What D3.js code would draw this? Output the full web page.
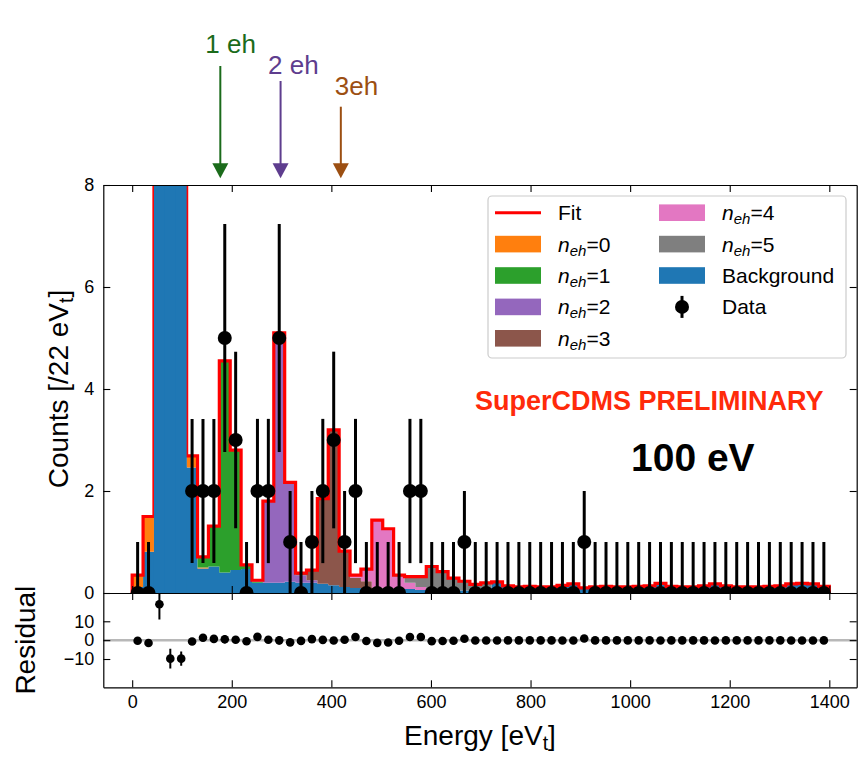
<!DOCTYPE html>
<html><head><meta charset="utf-8">
<script src="https://cdn.jsdelivr.net/npm/d3@7/dist/d3.min.js"></script>
<style>
body{margin:0;background:#fff}
svg{display:block}
text{font-family:"Liberation Sans",Arial,sans-serif}
</style>
</head><body>
<svg id="chart" width="860" height="757"></svg>
<script>
// ---------------- data ----------------
const binLow = 0, binHigh = 1400, binCount = 64;   // 64 bins of ~22 eV_t
const dataCounts = [0,0,64,28,14,2,2,2,5,3,0,2,2,5,1,0,1,2,3,1,2,0,0,0,0,2,2,0,0,0,1,0,
                    0,0,0,0,0,0,0,0,0,1,0,0,0,0,0,0,0,0,0,0,0,0,0,0,0,0,0,0,0,0,0,0];
const background = [0.12,0.81,44.5,37.3,23.5,2.46,0.48,0.52,0.40,0.45,0.47,0.20,0.20,0.20,0.22,0.20,
                    0.20,0.18,0.15,0.12,0.10,0.08,0.06,0.06,0.07,0.08,0.06,0.05,0.05,0.05,0.05,0.05,
                    0.10,0.22,0.14,0.12,0.13,0.12,0.12,0.15,0.18,0.10,0.12,0.13,0.12,0.12,0.13,0.14,
                    0.19,0.13,0.12,0.12,0.14,0.18,0.14,0.12,0.12,0.12,0.13,0.14,0.18,0.19,0.18,0.13];
const neh0 = [0.23,0.69,0.5,0.5,0.3,0.21,0.02];
const neh1 = [0,0,0,0,0,0.02,0.21,0.79,4.15,2.35,0.08,0.02];
const neh2 = [0,0,0,0,0,0,0,0,0,0,0,0.03,1.6,4.9,1.95,0.15,0.05];
const neh3 = [0,0,0,0,0,0,0,0,0,0,0,0,0,0,0,0.04,0.2,1.67,3.05,0.7,0.2,0.15,0.05];
const neh4 = [0,0,0,0,0,0,0,0,0,0,0,0,0,0,0,0,0,0,0,0,0.05,0.24,1.32,1.2,0.25,0.12,0.06];
const neh5 = [0,0,0,0,0,0,0,0,0,0,0,0,0,0,0,0,0,0,0,0,0,0,0,0,0.03,0.12,0.2,0.47,0.37,0.24,0.18,0.12,0.1];

const seriesColors = ["#1f77b4","#ff7f0e","#2ca02c","#9467bd","#8c564b","#e377c2","#7f7f7f"];

const xTicks = [0,200,400,600,800,1000,1200,1400];
const yTicks = [0,2,4,6,8];
const resTicks = [-10,0,10];

const ehArrows = [
  {label:"1 eh", energy:177, color:"#1b6b1b"},
  {label:"2 eh", energy:298, color:"#5e3d8e"},
  {label:"3eh",  energy:419, color:"#9c4f12"}
];

// ---------------- layout ----------------
const L = 103.3, R = 856.7, T = 185, MB = 593, RB = 687.3;
const svg = d3.select("#chart");
const x = d3.scaleLinear().domain([-58, 1455]).range([L, R]);
const y = d3.scaleLinear().domain([0, 8]).range([MB, T]);
const yr = d3.scaleLinear().domain([-25, 25]).range([RB, MB]);

const width = (binHigh - binLow) / binCount;
const edges = d3.range(binCount + 1).map(i => binLow + i * width);
const centers = d3.range(binCount).map(i => binLow + (i + 0.5) * width);
const comps = [background, neh0, neh1, neh2, neh3, neh4, neh5]
  .map(a => d3.range(binCount).map(i => a[i] || 0));

const cum = [];
let base = d3.range(binCount).map(() => 0);
comps.forEach(c => {
  const top = base.map((b, i) => b + c[i]);
  cum.push({lo: base, hi: top});
  base = top;
});
const fitTotal = base;

const defs = svg.append("defs");
defs.append("clipPath").attr("id","clipMain").append("rect")
  .attr("x", L).attr("y", T).attr("width", R - L).attr("height", MB - T);
defs.append("clipPath").attr("id","clipRes").append("rect")
  .attr("x", L).attr("y", MB).attr("width", R - L).attr("height", RB - MB);

const main = svg.append("g").attr("clip-path","url(#clipMain)");

const idx = d3.range(binCount + 1);
cum.forEach((layer, j) => {
  const area = d3.area()
    .curve(d3.curveStepAfter)
    .x(i => x(edges[i]))
    .y0(i => y(layer.lo[Math.min(i, binCount - 1)]))
    .y1(i => y(layer.hi[Math.min(i, binCount - 1)]));
  main.append("path").attr("d", area(idx)).attr("fill", seriesColors[j]);
});

const fitPts = [[edges[0], 0]]
  .concat(d3.range(binCount).map(i => [edges[i], fitTotal[i]]))
  .concat([[edges[binCount], fitTotal[binCount - 1]], [edges[binCount], 0]]);
main.append("path")
  .attr("d", d3.line().curve(d3.curveStepAfter).x(d => x(d[0])).y(d => y(d[1]))(fitPts))
  .attr("fill","none").attr("stroke","#ff0000").attr("stroke-width",3.2);

const over = d3.range(binCount).filter(i => background[i] > y.domain()[1]);
main.selectAll("rect.over").data(over).join("rect")
  .attr("x", i => x(edges[i])).attr("width", i => x(edges[i + 1]) - x(edges[i]))
  .attr("y", T - 5).attr("height", MB - T + 5)
  .attr("fill", seriesColors[0]);

const pts = d3.range(binCount).map(i => ({
  e: centers[i], n: dataCounts[i],
  lo: dataCounts[i] > 0 ? dataCounts[i] - Math.sqrt(dataCounts[i]) : 0,
  hi: dataCounts[i] > 0 ? dataCounts[i] + Math.sqrt(dataCounts[i]) : 1
}));
main.selectAll("line.err").data(pts).join("line")
  .attr("x1", d => x(d.e)).attr("x2", d => x(d.e))
  .attr("y1", d => y(d.lo)).attr("y2", d => y(d.hi))
  .attr("stroke","#000").attr("stroke-width",3);
main.selectAll("circle.pt").data(pts).join("circle")
  .attr("cx", d => x(d.e)).attr("cy", d => y(d.n)).attr("r", 7).attr("fill","#000");

const res = svg.append("g").attr("clip-path","url(#clipRes)");
res.append("line").attr("x1", L).attr("x2", R).attr("y1", yr(0)).attr("y2", yr(0))
  .attr("stroke","#b8b8b8").attr("stroke-width",2.5);
const rpts = d3.range(binCount).map(i => ({
  e: centers[i], r: dataCounts[i] - fitTotal[i], s: Math.sqrt(dataCounts[i])
}));
res.selectAll("line.rerr").data(rpts).join("line")
  .attr("x1", d => x(d.e)).attr("x2", d => x(d.e))
  .attr("y1", d => yr(d.r - d.s)).attr("y2", d => yr(d.r + d.s))
  .attr("stroke","#000").attr("stroke-width",2);
res.selectAll("circle.rpt").data(rpts).join("circle")
  .attr("cx", d => x(d.e)).attr("cy", d => yr(d.r)).attr("r", 4.3).attr("fill","#000");

// ---------------- axes ----------------
const tickFont = 18, tl = 7, fmt = d3.format("d");
function styleAxis(g){
  g.selectAll(".domain").attr("stroke","#000").attr("stroke-width",1.2);
  g.selectAll(".tick line").attr("stroke","#000").attr("stroke-width",1.1);
  g.selectAll("text").attr("font-size", tickFont).attr("font-family","Liberation Sans, Arial, sans-serif").attr("fill","#000");
}
svg.append("g").attr("transform",`translate(0,${MB})`)
  .call(d3.axisBottom(x).tickValues(xTicks).tickSize(-tl).tickSizeOuter(0).tickFormat("")).call(styleAxis);
svg.append("g").attr("transform",`translate(0,${T})`)
  .call(d3.axisTop(x).tickValues(xTicks).tickSize(-tl).tickSizeOuter(0).tickFormat("")).call(styleAxis);
svg.append("g").attr("transform",`translate(${L},0)`)
  .call(d3.axisLeft(y).tickValues(yTicks).tickSize(-tl).tickSizeOuter(0).tickPadding(9).tickFormat(fmt)).call(styleAxis);
svg.append("g").attr("transform",`translate(${R},0)`)
  .call(d3.axisRight(y).tickValues(yTicks).tickSize(-tl).tickSizeOuter(0).tickFormat("")).call(styleAxis);
svg.append("g").attr("transform",`translate(0,${RB})`)
  .call(d3.axisBottom(x).tickValues(xTicks).tickSize(-tl).tickSizeOuter(0).tickPadding(8).tickFormat(fmt)).call(styleAxis);
svg.append("g").attr("transform",`translate(0,${MB})`)
  .call(d3.axisTop(x).tickValues(xTicks).tickSize(-tl).tickSizeOuter(0).tickFormat("")).call(styleAxis);
svg.append("g").attr("transform",`translate(${L},0)`)
  .call(d3.axisLeft(yr).tickValues(resTicks).tickSize(-tl).tickSizeOuter(0).tickPadding(9).tickFormat(fmt)).call(styleAxis);
svg.append("g").attr("transform",`translate(${R},0)`)
  .call(d3.axisRight(yr).tickValues(resTicks).tickSize(-tl).tickSizeOuter(0).tickFormat("")).call(styleAxis);

const labFont = 28;
const ylab = svg.append("text")
  .attr("transform",`translate(68,${(T + MB) / 2}) rotate(-90)`)
  .attr("text-anchor","middle").attr("font-size", labFont);
ylab.append("tspan").text("Counts [/22 eV");
ylab.append("tspan").attr("font-size", labFont * 0.7).attr("dy", 5).text("t");
ylab.append("tspan").attr("dy", -5).text("]");
svg.append("text").attr("transform",`translate(35,${(MB + RB) / 2}) rotate(-90)`)
  .attr("text-anchor","middle").attr("font-size", labFont).text("Residual");
const xlab = svg.append("text").attr("x", (L + R) / 2).attr("y", 745)
  .attr("text-anchor","middle").attr("font-size", labFont);
xlab.append("tspan").text("Energy [eV");
xlab.append("tspan").attr("font-size", labFont * 0.7).attr("dy", 5).text("t");
xlab.append("tspan").attr("dy", -5).text("]");

// ---------------- annotations ----------------
const arrowTop = [66, 81, 106.7], textBase = [52.7, 74.3, 95], textDx = [-15, -12.5, -6];
ehArrows.forEach((a, k) => {
  const ax = x(a.energy), tip = 178.3, headH = 15, headW = 8;
  svg.append("line").attr("x1", ax).attr("x2", ax).attr("y1", arrowTop[k]).attr("y2", tip - headH + 1)
    .attr("stroke", a.color).attr("stroke-width", 2);
  svg.append("path").attr("d", `M${ax - headW},${tip - headH}L${ax + headW},${tip - headH}L${ax},${tip}Z`)
    .attr("fill", a.color);
  svg.append("text").attr("x", ax + textDx[k]).attr("y", textBase[k])
    .attr("font-size", 26).attr("fill", a.color).text(a.label);
});

svg.append("text").attr("x", 475).attr("y", 410).attr("font-size", 27).attr("font-weight","bold")
  .attr("fill","#ff2a0a").text("SuperCDMS PRELIMINARY");
svg.append("text").attr("x", 631).attr("y", 471).attr("font-size", 39).attr("font-weight","bold")
  .attr("fill","#000").text("100 eV");

// ---------------- legend ----------------
const lg = svg.append("g");
lg.append("rect").attr("x", 488).attr("y", 196).attr("width", 358).attr("height", 162)
  .attr("rx", 4).attr("fill","#fff").attr("fill-opacity",0.8).attr("stroke","#cccccc").attr("stroke-width",1.2);
const rowY = r => 212.7 + r * 31.4;
const legendItems = [
  {col:0,row:0,type:"line",color:"#ff0000",label:"Fit"},
  {col:0,row:1,type:"patch",color:seriesColors[1],sub:"0"},
  {col:0,row:2,type:"patch",color:seriesColors[2],sub:"1"},
  {col:0,row:3,type:"patch",color:seriesColors[3],sub:"2"},
  {col:0,row:4,type:"patch",color:seriesColors[4],sub:"3"},
  {col:1,row:0,type:"patch",color:seriesColors[5],sub:"4"},
  {col:1,row:1,type:"patch",color:seriesColors[6],sub:"5"},
  {col:1,row:2,type:"patch",color:seriesColors[0],label:"Background"},
  {col:1,row:3,type:"data",color:"#000",label:"Data"}
];
const hx = [495, 659], tx = [558, 722], hw = 46;
legendItems.forEach(it => {
  const cy = rowY(it.row), x0 = hx[it.col];
  if (it.type === "line") lg.append("line").attr("x1", x0).attr("x2", x0 + hw).attr("y1", cy).attr("y2", cy)
    .attr("stroke", it.color).attr("stroke-width", 3);
  else if (it.type === "patch") lg.append("rect").attr("x", x0).attr("y", cy - 8.3).attr("width", hw).attr("height", 16.6)
    .attr("fill", it.color);
  else {
    lg.append("line").attr("x1", x0 + hw / 2).attr("x2", x0 + hw / 2).attr("y1", cy - 11).attr("y2", cy + 11)
      .attr("stroke","#000").attr("stroke-width",3);
    lg.append("circle").attr("cx", x0 + hw / 2).attr("cy", cy).attr("r", 7).attr("fill","#000");
  }
  const t = lg.append("text").attr("x", tx[it.col]).attr("y", cy + 7.5).attr("font-size", 21);
  if (it.label) t.text(it.label);
  else {
    t.append("tspan").attr("font-style","italic").text("n");
    t.append("tspan").attr("font-style","italic").attr("font-size", 15).attr("dy", 4).text("eh");
    t.append("tspan").attr("dy", -4).text("=" + it.sub);
  }
});
</script>
</body></html>
